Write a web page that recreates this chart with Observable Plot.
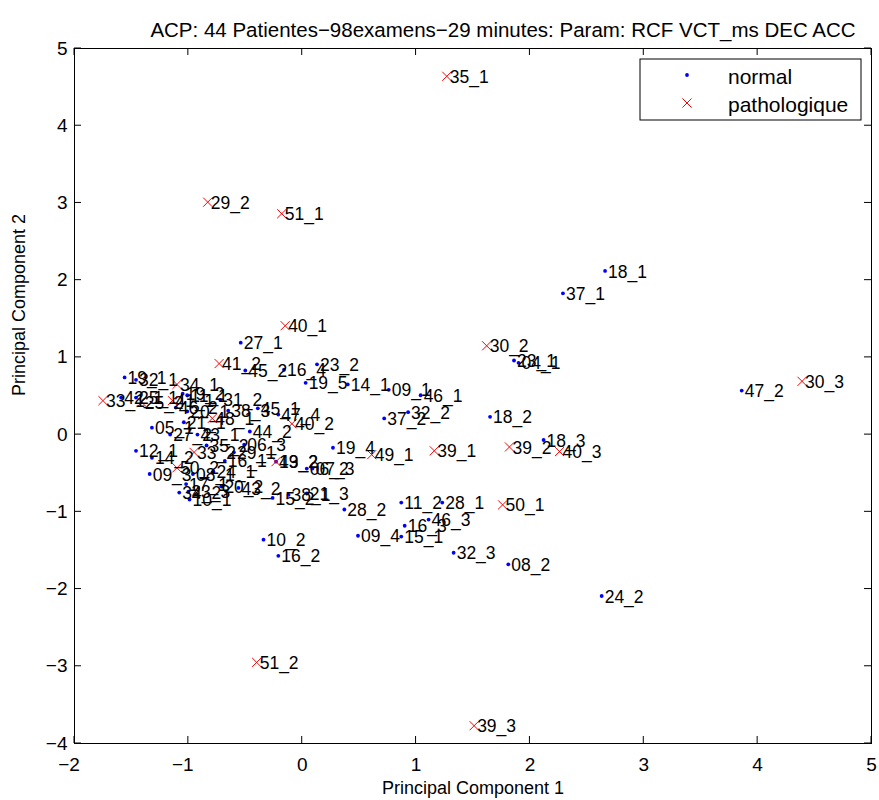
<!DOCTYPE html>
<html>
<head>
<meta charset="utf-8">
<script src="https://cdn.jsdelivr.net/npm/d3@7"></script>
<script src="https://cdn.jsdelivr.net/npm/@observablehq/plot@0.6"></script>
<style>
  body { margin: 0; background: white; }
  #chart svg { display: block; }
</style>
</head>
<body>
<div id="chart"></div>
<script>
const titleText = "ACP: 44 Patientes\u221298examens\u221229 minutes: Param: RCF VCT_ms DEC ACC";
const xLabel = "Principal Component 1";
const yLabel = "Principal Component 2";
const legendLabels = ["normal", "pathologique"];
const xTicks = [-2, -1, 0, 1, 2, 3, 4, 5];
const yTicks = [-4, -3, -2, -1, 0, 1, 2, 3, 4, 5];

// normal examinations
const normalLabels = ["18_1","37_1","27_1","23_1","04_1","45_2","16_4","23_2","19_5","14_1",
  "09_1","46_1","47_2","37_2","32_2","18_2","18_3","19_4","47_4","45_1",
  "44_2","13_2","06_2","07_3","15_2","38_1","21_3","28_2","11_2","28_1",
  "46_3","16_3","15_1","09_4","32_3","08_2","24_2","10_2","16_2","19_1",
  "32_1","19_2","11_1","42_1","25_1","46_2","20_1","31_2","38_3","21_1",
  "05_1","27_2","43_1","12_1","14_2","35_2","06_3","29_1","16_1","09_3",
  "08_1","24_1","17_1","20_2","43_2","34_2","23_3","10_1"];
const normalX = [2.66,2.29,-0.54,1.86,1.90,-0.50,-0.16,0.13,0.03,0.40,
  0.76,1.04,3.86,0.72,0.93,1.65,2.12,0.27,-0.21,-0.39,
  -0.46,-0.23,0.04,0.09,-0.26,-0.12,0.04,0.37,0.87,1.23,
  1.11,0.90,0.87,0.49,1.33,1.81,2.63,-0.34,-0.21,-1.56,
  -1.46,-1.05,-1.01,-1.59,-1.46,-1.11,-1.01,-0.72,-0.65,-1.04,
  -1.32,-1.16,-0.92,-1.46,-1.32,-0.84,-0.51,-0.60,-0.68,-1.34,
  -0.96,-0.78,-1.02,-0.71,-0.56,-1.08,-1.00,-0.99];
const normalY = [2.12,1.83,1.19,0.96,0.93,0.83,0.84,0.91,0.67,0.65,
  0.58,0.51,0.57,0.21,0.29,0.23,-0.07,-0.17,0.26,0.34,
  0.04,-0.35,-0.44,-0.44,-0.82,-0.78,-0.76,-0.97,-0.88,-0.88,
  -1.10,-1.18,-1.32,-1.31,-1.53,-1.68,-2.09,-1.36,-1.57,0.74,
  0.71,0.53,0.51,0.48,0.48,0.35,0.30,0.45,0.31,0.16,
  0.09,0.00,0.00,-0.21,-0.30,-0.14,-0.13,-0.23,-0.34,-0.51,
  -0.51,-0.48,-0.64,-0.67,-0.69,-0.75,-0.74,-0.84];

// pathological examinations
const pathoLabels = ["35_1","29_2","51_1","40_1","30_2","41_2","34_1","33_1","25_2","41_1",
  "48_1","40_2","39_1","49_1","39_2","40_3","30_3","33_2","49_2","50_2",
  "50_1","51_2","39_3"];
const pathoX = [1.27,-0.83,-0.18,-0.15,1.62,-0.73,-1.10,-1.75,-1.41,-1.14,
  -0.79,-0.09,1.16,0.61,1.82,2.26,4.39,-0.95,-0.23,-1.10,
  1.76,-0.40,1.51];
const pathoY = [4.64,3.01,2.86,1.41,1.15,0.92,0.65,0.44,0.42,0.44,
  0.21,0.14,-0.21,-0.26,-0.16,-0.22,0.69,-0.23,-0.35,-0.43,
  -0.91,-2.95,-3.77];

const normal = normalLabels.map((label, i) => ({label, x: normalX[i], y: normalY[i]}));
const patho = pathoLabels.map((label, i) => ({label, x: pathoX[i], y: pathoY[i]}));
const allPts = normal.concat(patho);

const FONT = "'Liberation Sans', Arial, Helvetica, sans-serif";
const fmt = d => String(d).replace("-", "\u2212");
const xNeg = xTicks.filter(d => d < 0), xPos = xTicks.filter(d => d >= 0);

const plot = Plot.plot({
  width: 879,
  height: 800,
  marginLeft: 74,
  marginRight: 8,
  marginTop: 48,
  marginBottom: 57,
  style: {fontFamily: FONT, fontSize: "15px", background: "white", color: "black"},
  x: {domain: [-2, 5], ticks: xTicks, label: null},
  y: {domain: [-4, 5], ticks: yTicks, label: null},
  marks: [
    Plot.axisX({ticks: xPos, tickFormat: fmt, tickSize: 0, tickPadding: 14, fontSize: 19, label: null}),
    Plot.axisX({ticks: xNeg, tickFormat: fmt, tickSize: 0, tickPadding: 14, fontSize: 19, dx: -5.5, label: null}),
    Plot.axisY({ticks: yTicks, tickFormat: fmt, tickSize: 0, tickPadding: 7, fontSize: 19, label: null}),
    Plot.dot(normal, {x: "x", y: "y", r: 1.9, fill: "#0000ff", stroke: "none"}),
    Plot.dot(patho, {x: "x", y: "y", r: 4.2, symbol: "times", stroke: "#ff0000", strokeWidth: 1}),
    Plot.text(allPts, {x: "x", y: "y", text: "label", textAnchor: "start", dx: 3, dy: 1, fontSize: 17.5, fill: "black"}),
    Plot.frame({stroke: "black", strokeWidth: 1}),
    Plot.text([titleText], {frameAnchor: "top", dx: 30, dy: -12, lineAnchor: "bottom", fontSize: 20.5, fill: "black"}),
    Plot.text([xLabel], {frameAnchor: "bottom", dy: 50, lineAnchor: "bottom", fontSize: 18, fill: "black"}),
    Plot.text([yLabel], {frameAnchor: "left", dx: -50, rotate: -90, lineAnchor: "bottom", fontSize: 18, fill: "black"})
  ]
});

// inward ticks and legend drawn with the plot's own scales
const sx = plot.scale("x"), sy = plot.scale("y");
const [x0, x1] = sx.range, [y0, y1] = sy.range; // y0 bottom, y1 top
const svg = d3.select(plot);
const tl = 7;
const g = svg.append("g").attr("stroke", "black").attr("stroke-width", 1);
xTicks.forEach(t => {
  const px = sx.apply(t);
  g.append("line").attr("x1", px).attr("x2", px).attr("y1", y0).attr("y2", y0 - tl);
  g.append("line").attr("x1", px).attr("x2", px).attr("y1", y1).attr("y2", y1 + tl);
});
yTicks.forEach(t => {
  const py = sy.apply(t);
  g.append("line").attr("y1", py).attr("y2", py).attr("x1", x0).attr("x2", x0 + tl);
  g.append("line").attr("y1", py).attr("y2", py).attr("x1", x1).attr("x2", x1 - tl);
});

const lx = x1 - 231, ly = y1 + 11, lw = 221, lh = 61;
const lg = svg.append("g");
lg.append("rect").attr("x", lx).attr("y", ly).attr("width", lw).attr("height", lh)
  .attr("fill", "white").attr("stroke", "black").attr("stroke-width", 1);
lg.append("circle").attr("cx", lx + 47).attr("cy", ly + 16).attr("r", 1.9).attr("fill", "#0000ff");
lg.append("path").attr("d", d3.symbol(d3.symbolTimes, Math.PI * 4.2 * 4.2)())
  .attr("transform", `translate(${lx + 47},${ly + 44})`).attr("fill", "none").attr("stroke", "#ff0000").attr("stroke-width", 1);
lg.append("text").attr("x", lx + 88).attr("y", ly + 25).attr("text-anchor", "start")
  .attr("font-size", 21).attr("font-family", FONT).attr("fill", "black").text(legendLabels[0]);
lg.append("text").attr("x", lx + 88).attr("y", ly + 53).attr("text-anchor", "start")
  .attr("font-size", 21).attr("font-family", FONT).attr("fill", "black").text(legendLabels[1]);

document.getElementById("chart").appendChild(plot);
</script>
</body>
</html>
